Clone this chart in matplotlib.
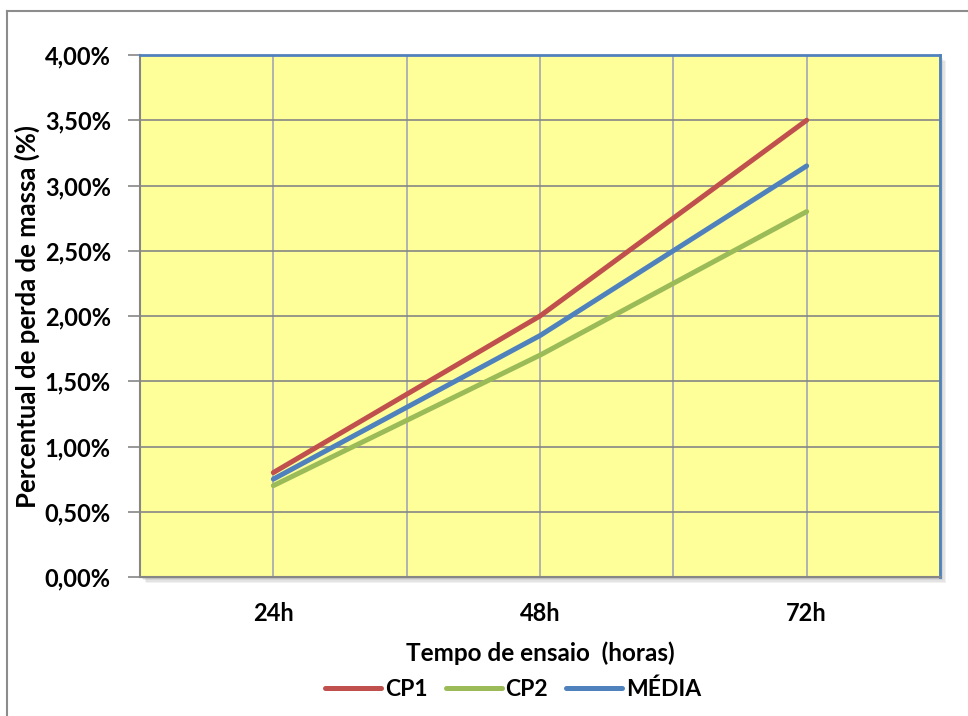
import matplotlib
matplotlib.use("Agg")
import matplotlib.pyplot as plt
from matplotlib.patches import Rectangle
from matplotlib.lines import Line2D
from matplotlib.ticker import FuncFormatter, MultipleLocator

categories = ["24h", "48h", "72h"]
cp1 = [0.80, 2.00, 3.50]
cp2 = [0.70, 1.70, 2.80]
media = [0.75, 1.85, 3.15]
series_names = ["CP1", "CP2", "MÉDIA"]
colors = ["#C0504D", "#9BBB59", "#4F81BD"]

plt.rcParams['font.family'] = ['Lato', 'DejaVu Sans']
plt.rcParams['font.weight'] = 'bold'

W, H = 968, 716
fig = plt.figure(figsize=(W/100, H/100), dpi=100)

L, R, T, B = 140, 940, 55, 577
ax_rect = [L/W, (H-B)/H, (R-L)/W, (B-T)/H]

# figure frame (left and top lines)
fig.add_artist(Line2D([7/W, 7/W], [0, 1-11/H], transform=fig.transFigure, color="#8C8C8C", lw=1.5))
fig.add_artist(Line2D([7/W, 1], [1-11/H, 1-11/H], transform=fig.transFigure, color="#8C8C8C", lw=1.5))

# shadow behind plot area
for i, a in enumerate([0.10, 0.12, 0.15, 0.2]):
    off = 6 - i * 1.3
    fig.add_artist(Rectangle(((L+off)/W, (H-B-off)/H), (R-L)/W, (B-T)/H,
                             transform=fig.transFigure, facecolor="#7F7F7F",
                             edgecolor="none", alpha=a, zorder=0))

ax = fig.add_axes(ax_rect, zorder=1)
ax.set_facecolor("#FFFF99")

x = list(range(len(categories)))
for vals, name, c in zip([cp1, cp2, media], series_names, colors):
    ax.plot(x, vals, color=c, lw=3.6, label=name, solid_capstyle='round', zorder=3)

ax.set_xlim(-0.5, 2.5)
ax.set_ylim(0, 4.0)
ax.yaxis.set_major_locator(MultipleLocator(0.5))
ax.yaxis.set_major_formatter(FuncFormatter(lambda v, p: f"{v:.2f}%".replace('.', ',')))
ax.set_xticks(x)
ax.set_xticklabels(categories)
ax.set_xticks([-0.5, 0.5, 1.5, 2.5], minor=True)

ax.grid(axis='y', which='major', color="#868686", lw=1.2, zorder=1)
ax.grid(axis='x', which='both', color="#A6A6B4", lw=1.2, zorder=1)
ax.set_axisbelow(True)

ax.tick_params(axis='y', length=9, width=1.2, color="#868686", pad=12, labelsize=17)
ax.tick_params(axis='x', which='both', length=0, pad=18, labelsize=17)

for s in ['left', 'bottom']:
    ax.spines[s].set_color("#868686")
    ax.spines[s].set_linewidth(1.5)
for s in ['top', 'right']:
    ax.spines[s].set_color("#4F81BD")
    ax.spines[s].set_linewidth(2)

ax.set_ylabel("Percentual de perda de massa (%)", fontsize=18.5, fontweight='bold')
ax.yaxis.set_label_coords((40 - L) / (R - L), 0.5)
ax.set_xlabel("Tempo de ensaio  (horas)", fontsize=17.5, fontweight='bold', labelpad=12)

leg = fig.legend(loc='center', bbox_to_anchor=(513/W, 1-689/H), ncol=3, frameon=False,
                 fontsize=16.5, handlelength=2.45, columnspacing=0.8, handletextpad=0.15)

fig.savefig("out.png", dpi=100)
